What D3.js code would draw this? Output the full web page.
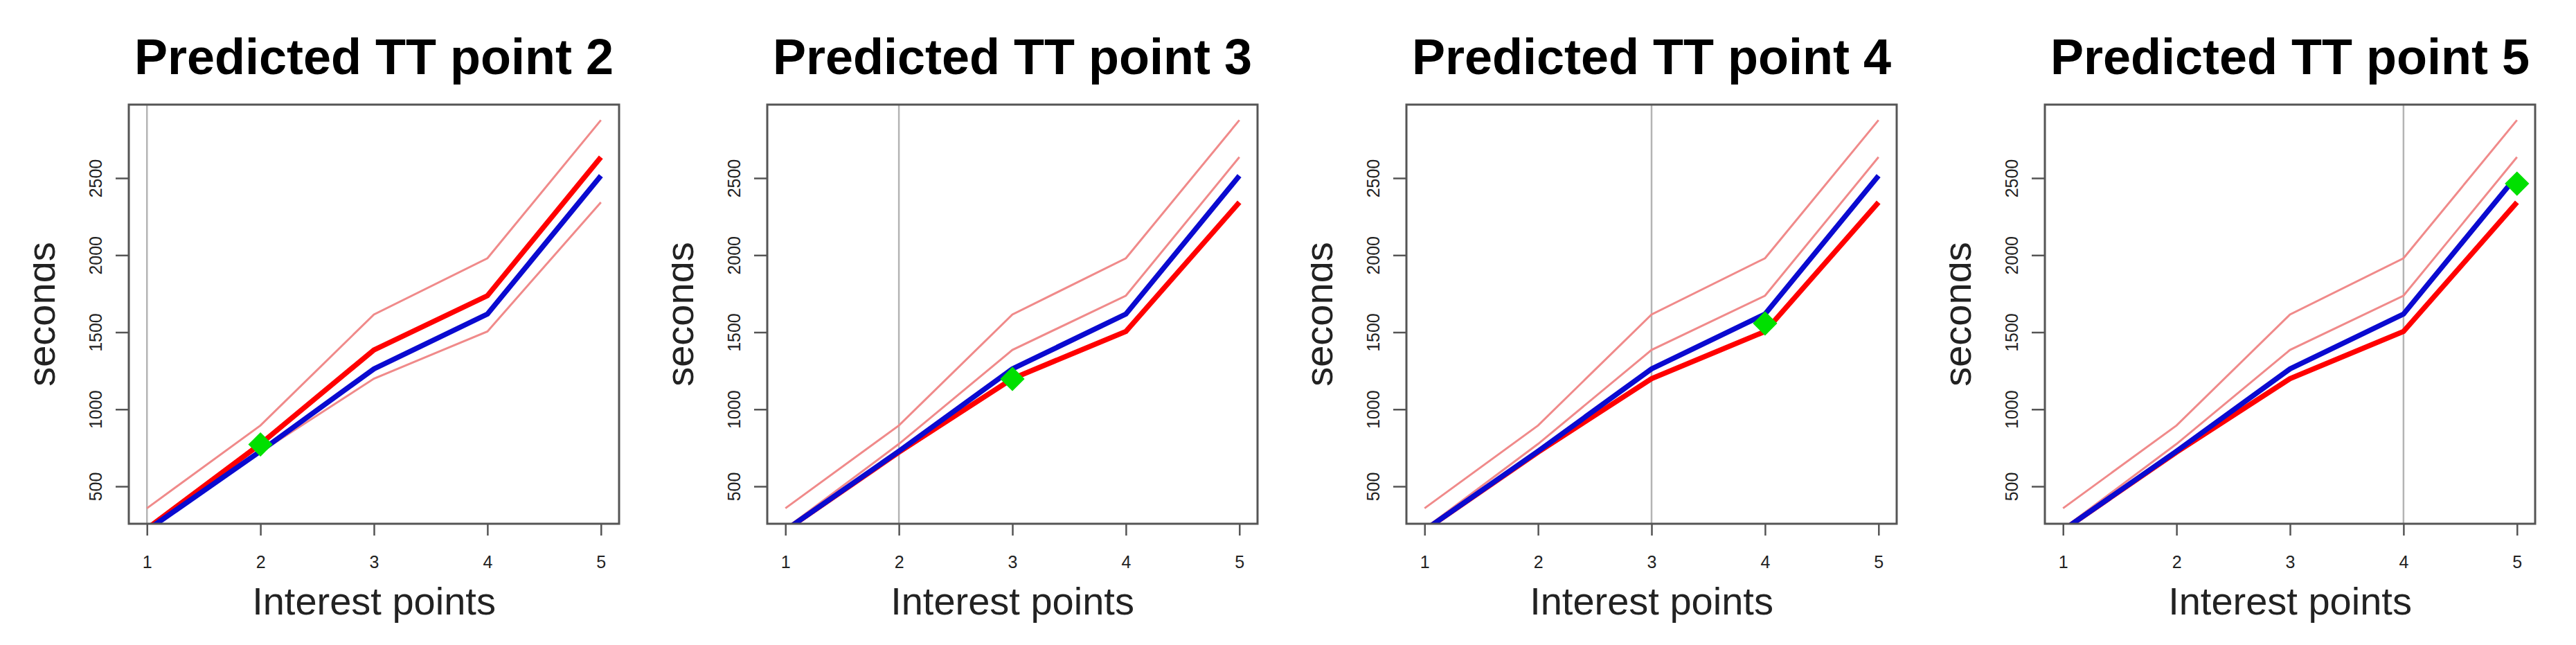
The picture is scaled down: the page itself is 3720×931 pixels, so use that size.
<!DOCTYPE html>
<html>
<head>
<meta charset="utf-8">
<script src="https://cdn.jsdelivr.net/npm/d3@7"></script>
<style>
  body { margin: 0; background: #fff; }
</style>
</head>
<body>
<svg id="chart"></svg>
<script>
// Data
const xPoints = [1, 2, 3, 4, 5];
const upperBound = [358, 895, 1615, 1980, 2876];
const predHigh = [225, 775, 1385, 1737, 2636];
const observed = [215, 728, 1262, 1618, 2515];
const predLow = [215, 722, 1199, 1505, 2343];

const panelTitles = ["Predicted TT point 2", "Predicted TT point 3", "Predicted TT point 4", "Predicted TT point 5"];
const splitPoint = [1, 2, 3, 4];          // grey vertical line
const predictedPoint = [2, 3, 4, 5];      // green diamond x
const predictedValue = [772, 1197, 1557, 2464];
const boldSeries = ["high", "low", "low", "low"];
const yTicks = [500, 1000, 1500, 2000, 2500];

const series = { high: predHigh, low: predLow };

const W = 3720, H = 931;
const box = { top: 151, bottom: 756, width: 708 };
const boxLefts = [186, 1108, 2031, 2953];
const font = "'Liberation Sans', Arial, Helvetica, sans-serif";

const svg = d3.select("#chart").attr("width", W).attr("height", H);

// R style 4% padding around the data range
const pad = (lo, hi) => { const d = (hi - lo) * 0.04; return [lo - d, hi + d]; };

const y = d3.scaleLinear()
  .domain(pad(d3.min(upperBound), d3.max(upperBound)))
  .range([box.bottom, box.top]);
const x = d3.scaleLinear()
  .domain(pad(1, 5))
  .range([0, box.width]);

const line = d3.line()
  .x((d, i) => x(xPoints[i]))
  .y(d => y(d));

panelTitles.forEach((title, p) => {
  const g = svg.append("g").attr("transform", `translate(${boxLefts[p]},0)`);

  const clipId = "clip" + p;
  g.append("clipPath").attr("id", clipId)
    .append("rect")
    .attr("x", 0).attr("y", box.top)
    .attr("width", box.width).attr("height", box.bottom - box.top);

  const plot = g.append("g").attr("clip-path", `url(#${clipId})`);

  // grey vertical line
  plot.append("line")
    .attr("x1", x(splitPoint[p])).attr("x2", x(splitPoint[p]))
    .attr("y1", box.top).attr("y2", box.bottom)
    .attr("stroke", "#b4b4b4").attr("stroke-width", 2.5);

  const bold = series[boldSeries[p]];
  const light = [upperBound, boldSeries[p] === "high" ? predLow : predHigh];

  light.forEach(s => {
    plot.append("path").datum(s)
      .attr("d", line)
      .attr("fill", "none")
      .attr("stroke", "#f08a8a")
      .attr("stroke-width", 3);
  });

  plot.append("path").datum(bold)
    .attr("d", line)
    .attr("fill", "none")
    .attr("stroke", "#ff0000")
    .attr("stroke-width", 7.5);

  plot.append("path").datum(observed)
    .attr("d", line)
    .attr("fill", "none")
    .attr("stroke", "#0a0ad0")
    .attr("stroke-width", 7.5);

  // green diamond
  plot.append("path")
    .attr("d", d3.symbol(d3.symbolSquare, 620)())
    .attr("transform", `translate(${x(predictedPoint[p])},${y(predictedValue[p])}) rotate(45)`)
    .attr("fill", "#00e000");

  // box
  g.append("rect")
    .attr("x", 0).attr("y", box.top)
    .attr("width", box.width).attr("height", box.bottom - box.top)
    .attr("fill", "none")
    .attr("stroke", "#555")
    .attr("stroke-width", 3);

  // x axis
  const xa = g.append("g")
    .attr("transform", `translate(0,${box.bottom})`)
    .call(d3.axisBottom(x).tickValues(xPoints).tickFormat(d3.format("d"))
      .tickSize(17).tickSizeOuter(0).tickPadding(29));
  xa.select(".domain").remove();
  xa.selectAll("line").attr("stroke", "#555").attr("stroke-width", 2.5);
  xa.selectAll("text")
    .attr("font-family", font).attr("font-size", 25).attr("fill", "#222");

  // y axis, labels parallel to the axis
  const ya = g.append("g")
    .call(d3.axisLeft(y).tickValues(yTicks).tickFormat(d3.format("d"))
      .tickSize(19).tickSizeOuter(0));
  ya.select(".domain").remove();
  ya.selectAll("line").attr("stroke", "#555").attr("stroke-width", 2.5);
  ya.selectAll("text")
    .attr("x", 0).attr("dy", 0)
    .attr("text-anchor", "middle")
    .attr("transform", "translate(-39,0) rotate(-90)")
    .attr("font-family", font).attr("font-size", 25).attr("fill", "#222");

  // title
  g.append("text")
    .attr("x", box.width / 2).attr("y", 107)
    .attr("text-anchor", "middle")
    .attr("font-family", font).attr("font-weight", "bold").attr("font-size", 72)
    .attr("fill", "#000")
    .text(title);

  // x label
  g.append("text")
    .attr("x", box.width / 2).attr("y", 887)
    .attr("text-anchor", "middle")
    .attr("font-family", font).attr("font-size", 56)
    .attr("fill", "#222")
    .text("Interest points");

  // y label, its top edge is cut in the original
  const labClip = "labclip" + p;
  g.append("clipPath").attr("id", labClip)
    .append("rect")
    .attr("x", -138).attr("y", 0)
    .attr("width", 138).attr("height", H);
  g.append("g").attr("clip-path", `url(#${labClip})`)
    .append("text")
    .attr("transform", `translate(-107,${(box.top + box.bottom) / 2}) rotate(-90)`)
    .attr("text-anchor", "middle")
    .attr("font-family", font).attr("font-size", 56)
    .attr("fill", "#222")
    .text("seconds");
});
</script>
</body>
</html>
